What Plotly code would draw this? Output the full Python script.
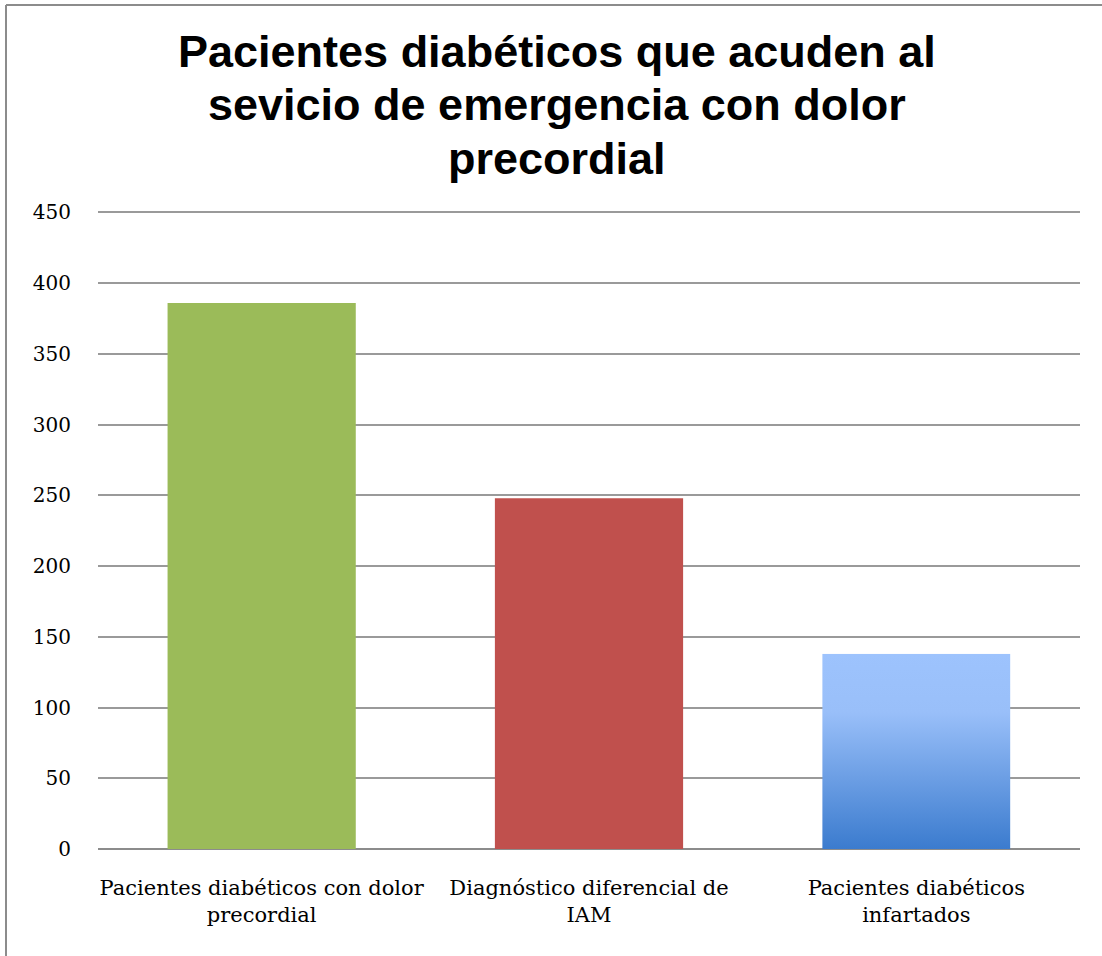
import plotly.graph_objects as go

categories = [
    "Pacientes diabéticos con dolor<br>precordial",
    "Diagnóstico diferencial de<br>IAM",
    "Pacientes diabéticos<br>infartados",
]
values = [386, 248, 138]
bar_colors = ["#9BBB59", "#C0504D", "rgba(0,0,0,0)"]
y_ticks = [0, 50, 100, 150, 200, 250, 300, 350, 400, 450]
title_lines = [
    "Pacientes diabéticos que acuden al",
    "sevicio de emergencia con dolor",
    "precordial",
]

W, H = 1102, 956
ML, MR, MT, MB = 98, 22, 211, 107
plot_w = W - ML - MR
plot_h = H - MT - MB
y_max = 451  # a touch above 450 so the top gridline is drawn

fig = go.Figure()
fig.add_trace(go.Bar(
    x=categories,
    y=values,
    marker=dict(color=bar_colors, line=dict(width=0)),
    hoverinfo="x+y",
))

# vertical gradient fill for the third bar (light blue to mid blue)
grad_svg = (
    "data:image/svg+xml;utf8,"
    "<svg xmlns='http://www.w3.org/2000/svg' width='100' height='100' preserveAspectRatio='none'>"
    "<defs><linearGradient id='g' x1='0' y1='0' x2='0' y2='1'>"
    "<stop offset='0' stop-color='%239DC3FD'/>"
    "<stop offset='0.3' stop-color='%2399BFF9'/>"
    "<stop offset='1' stop-color='%233B7BCE'/>"
    "</linearGradient></defs>"
    "<rect width='100' height='100' fill='url(%23g)'/></svg>"
)
bargap = 0.425
half = (1 - bargap) / 2
fig.add_layout_image(dict(
    source=grad_svg,
    xref="x", yref="y",
    x=2 - half, y=values[2],
    sizex=2 * half, sizey=values[2],
    xanchor="left", yanchor="top",
    sizing="stretch", layer="above",
))


def px_to_paper_x(px):
    return (px - ML) / plot_w


def px_to_paper_y(py):
    return (H - MB - py) / plot_h


# outer frame lines (left and top edges)
frame = dict(color="#8C8C8C", width=2)
fig.add_shape(type="line", xref="paper", yref="paper",
              x0=px_to_paper_x(6), x1=px_to_paper_x(6),
              y0=px_to_paper_y(5), y1=px_to_paper_y(H + 5), line=frame)
fig.add_shape(type="line", xref="paper", yref="paper",
              x0=px_to_paper_x(6), x1=px_to_paper_x(W + 5),
              y0=px_to_paper_y(5), y1=px_to_paper_y(5), line=frame)

# bold three-line title, one annotation per line for tight leading
for i, line in enumerate(title_lines):
    fig.add_annotation(
        text=f"<b>{line}</b>",
        xref="paper", yref="paper",
        x=px_to_paper_x(557), y=px_to_paper_y(52 + 53 * i),
        xanchor="center", yanchor="middle",
        showarrow=False,
        font=dict(family="Liberation Sans, Arial, sans-serif", size=45, color="black"),
    )

fig.update_layout(
    width=W, height=H,
    margin=dict(l=ML, r=MR, t=MT, b=MB),
    paper_bgcolor="white", plot_bgcolor="white",
    bargap=bargap,
    showlegend=False,
    font=dict(family="DejaVu Serif, serif", color="black"),
)
fig.update_xaxes(
    showgrid=False, showline=False, zeroline=False,
    tickfont=dict(family="DejaVu Serif, serif", size=21, color="black"),
    ticks="", ticklabelstandoff=24,
)
fig.update_yaxes(
    range=[0, y_max], tickvals=y_ticks, ticktext=[str(v) for v in y_ticks],
    showgrid=True, gridcolor="#9A9A9A", gridwidth=1.5,
    zeroline=True, zerolinecolor="#8C8C8C", zerolinewidth=2,
    showline=False, ticks="",
    tickfont=dict(family="DejaVu Serif, serif", size=20, color="black"),
    ticklabelstandoff=26,
)

fig.write_html("out.html")
